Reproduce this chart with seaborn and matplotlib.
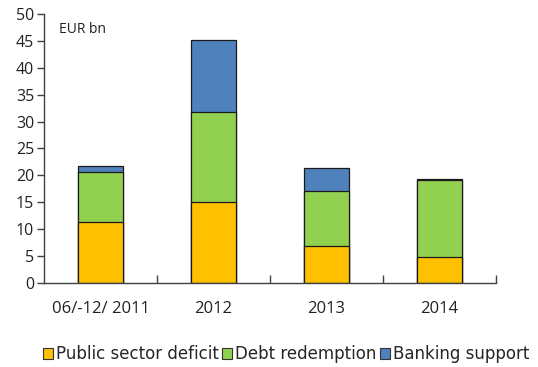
import matplotlib
matplotlib.use("Agg")
import matplotlib.pyplot as plt
from matplotlib.patches import Patch
import numpy as np
import pandas as pd
import seaborn as sns

periods = ["06/-12/ 2011", "2012", "2013", "2014"]
public_deficit = [11.3, 15.0, 6.8, 4.8]
debt_redemption = [9.4, 16.8, 10.3, 14.3]
banking_support = [1.0, 13.4, 4.2, 0.3]

series_names = ["Public sector deficit", "Debt redemption", "Banking support"]
colors = ["#FFC000", "#92D050", "#4F81BD"]

sns.set_theme(style="white")
plt.rcParams["font.family"] = ["Open Sans", "DejaVu Sans"]

fig = plt.figure(figsize=(5.38, 3.67), dpi=100)
ax = fig.add_axes([0.0818, 0.229, 0.840, 0.733])

layers = np.array([public_deficit, debt_redemption, banking_support])
cumulative = np.cumsum(layers, axis=0)

# Stacked bars: draw the running totals from the top layer down
for i in range(len(series_names) - 1, -1, -1):
    df = pd.DataFrame({"period": periods, "value": cumulative[i]})
    sns.barplot(data=df, x="period", y="value", color=colors[i], width=0.4,
                edgecolor="#1a1a1a", linewidth=0.9, saturation=1, ax=ax)

ax.set_xlim(-0.5, 3.5)
ax.set_ylim(0, 50)
ax.set_yticks(range(0, 51, 5))
ax.set_xlabel("")
ax.set_ylabel("")

for side in ["top", "right"]:
    ax.spines[side].set_visible(False)
for side in ["left", "bottom"]:
    ax.spines[side].set_color("#404040")
    ax.spines[side].set_linewidth(1.0)

ax.tick_params(axis="y", which="major", left=True, direction="out", length=5,
               width=1, color="#404040", labelsize=11.5, labelcolor="#222222", pad=2)
ax.tick_params(axis="x", which="major", bottom=False, labelsize=12,
               labelcolor="#222222", pad=7)
ax.set_xticks(np.arange(0.5, 4, 1.0), minor=True)
ax.tick_params(axis="x", which="minor", bottom=True, direction="in", length=6,
               width=1, color="#404040")

ax.text(0.033, 0.97, "EUR bn", transform=ax.transAxes, fontsize=10,
        color="#222222", va="top", ha="left")

handles = [Patch(facecolor=c, edgecolor="#333333", linewidth=0.8) for c in colors]
fig.legend(handles, series_names, loc="center", bbox_to_anchor=(0.532, 0.035),
           ncol=3, frameon=False, handlelength=0.6,
           handleheight=0.6, handletextpad=0.2, columnspacing=0.2,
           prop={"family": ["DejaVu Sans"], "size": 12})

fig.savefig("out.png", dpi=100)
